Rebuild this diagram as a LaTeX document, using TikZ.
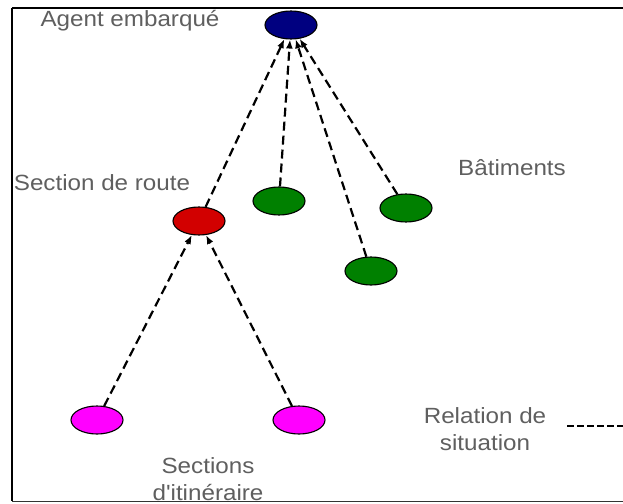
\documentclass[tikz,border=0pt]{standalone}
\usepackage{fontspec}
\newfontfamily\labelfont{Liberation Sans}[FakeStretch=1.1]
\usepackage{tikz}
\usetikzlibrary{positioning,shapes.geometric,arrows.meta}
\definecolor{agentblue}{RGB}{0,0,128}
\definecolor{routered}{RGB}{210,0,0}
\definecolor{batgreen}{RGB}{0,128,0}
\definecolor{itimagenta}{RGB}{255,0,255}
\definecolor{labelgray}{RGB}{95,95,95}

\begin{document}
\begin{tikzpicture}[x=1pt, y=-1pt, >={Latex[length=9pt,width=7pt]},
  obj/.style={draw, ellipse, line width=1.1pt, minimum width=52pt, minimum height=28pt, inner sep=0pt},
  lbl/.style={text=labelgray, font=\labelfont\fontsize{22}{27}\selectfont, align=center, inner sep=0pt},
  rel/.style={->, line width=2.2pt, dash pattern=on 9pt off 5pt}]
  \clip (0,0) rectangle (623,503);
  \node[obj, fill=agentblue] (agent) at (291,25) {};
  \node[obj, fill=routered, on grid, below left=196pt and 92pt of agent] (route) {};
  \node[obj, fill=batgreen, on grid, below left=176pt and 12pt of agent] (bat1) {};
  \node[obj, fill=batgreen, on grid, below right=183pt and 115pt of agent] (bat2) {};
  \node[obj, fill=batgreen, on grid, below right=246pt and 80pt of agent] (bat3) {};
  \node[obj, fill=itimagenta, on grid, below left=199pt and 102pt of route] (iti1) {};
  \node[obj, fill=itimagenta, on grid, below right=199pt and 100pt of route] (iti2) {};
  % labels
  \node[lbl, anchor=base] (agentlbl) at (130,27) {Agent embarqué};
  \node[lbl, anchor=base] (routelbl) at (102,190) {Section de route};
  \node[lbl, anchor=base] (batlbl) at (512,175) {Bâtiments};
  \node[lbl] (itilbl) at (208,479) {Sections\\d'itinéraire};
  \node[lbl] (rellbl) at (485,429) {Relation de\\situation};
  % relations
  \draw[rel] (route) -- (agent);
  \draw[rel] (bat1) -- (agent);
  \draw[rel] (bat3) -- (agent);
  \draw[rel] (bat2) -- (agent);
  \draw[rel] (iti1) -- (route);
  \draw[rel] (iti2) -- (route);
  \coordinate (legA) at (567,426);
  \coordinate (legB) at (640,426);
  \draw[line width=1.6pt, dash pattern=on 7pt off 3pt] (legA) -- (legB);
  % frame
  \draw[line width=2.2pt] (12,8) -- (640,8);
  \draw[line width=1.6pt] (12,8) -- (12,501);
  \draw[line width=1pt, black!80] (12,501) -- (640,501);
\end{tikzpicture}
\end{document}
